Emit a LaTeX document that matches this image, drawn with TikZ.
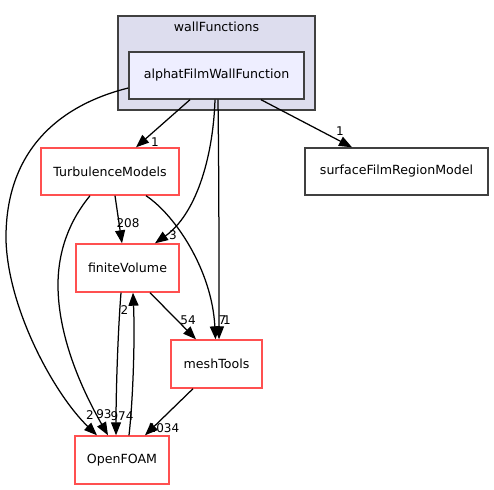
\documentclass[tikz,border=0pt]{standalone}
\usepackage{fontspec}
\setmainfont{DejaVu Sans}
\usetikzlibrary{arrows.meta}
\definecolor{clusterfill}{HTML}{DDDDEE}
\definecolor{nodefill}{HTML}{EEEEFF}
\definecolor{darkborder}{HTML}{404040}
\definecolor{redborder}{HTML}{FF5050}
\begin{document}
\begin{tikzpicture}[x=1pt,y=1pt,
  every node/.style={font=\fontsize{12.6}{15}\selectfont, inner sep=0pt},
  box/.style={draw, line width=1.4pt, minimum width=#1, minimum height=47pt},
  redbox/.style={box=#1, draw=redborder, fill=white},
  graybox/.style={box=#1, draw=darkborder, fill=white},
  dep/.style={line width=1.25pt, -{Triangle[length=13pt,width=10pt]}},
  lbl/.style={font=\fontsize{12}{14}\selectfont}
]
\useasboundingbox (0,0) rectangle (494,-489);
\fill[white] (0,0) rectangle (494,-489);
% cluster
\draw[fill=clusterfill, draw=darkborder, line width=1.3pt] (118,-16) rectangle (315,-110);
\node (clab) at (216.5,-27) {wallFunctions};
% nodes
\node[box=175pt, draw=darkborder, fill=nodefill] (alphat) at (216.5,-75.5) {alphatFilmWallFunction};
\node[redbox=138pt] (TM) at (110,-171.5) {TurbulenceModels};
\node[graybox=183pt] (SF) at (396.5,-171.5) {surfaceFilmRegionModel};
\node[redbox=103pt, minimum height=48pt] (FV) at (127.5,-268) {finiteVolume};
\node[redbox=91pt, minimum height=48pt] (MT) at (216.5,-364) {meshTools};
\node[redbox=94pt, minimum height=48pt] (OF) at (122,-460) {OpenFOAM};
% edges
\draw[dep] ([xshift=-26.5pt]alphat.south) -- ([xshift=26pt]TM.north);
\draw[dep] ([xshift=44.5pt]alphat.south) -- ([xshift=-44.5pt]SF.north);
\draw[dep] ([xshift=-1.5pt]alphat.south) .. controls (213,-160) and (195,-215) .. ([xshift=27.5pt]FV.north);
\draw[dep] ([xshift=1.5pt]alphat.south) .. controls (219,-180) and (219,-260) .. ([xshift=2.5pt]MT.north);
\draw[dep] ([yshift=-12.5pt]alphat.west) .. controls (60,-105) and (5,-150) .. (6,-240)
   .. controls (8,-310) and (55,-395) .. ([xshift=-25pt]OF.north);
\draw[dep] ([xshift=5pt]TM.south) -- ([xshift=-5.5pt]FV.north);
\draw[dep] ([xshift=36pt]TM.south) .. controls (175,-215) and (212,-270) .. ([xshift=-1pt]MT.north);
\draw[dep] ([xshift=-20pt]TM.south) .. controls (70,-220) and (58,-250) .. (58,-285)
   .. controls (58,-340) and (85,-395) .. ([xshift=-14pt]OF.north);
\draw[dep] ([xshift=-6.5pt]FV.south) .. controls (118,-330) and (116,-390) .. ([xshift=-6pt]OF.north);
\draw[dep] ([xshift=7pt]OF.north) .. controls (133,-400) and (135,-340) .. ([xshift=5.5pt]FV.south);
\draw[dep] ([xshift=22.5pt]FV.south) -- ([xshift=-20.5pt]MT.north);
\draw[dep] ([xshift=-23.5pt]MT.south) -- ([xshift=23pt]OF.north);
% labels
\node[lbl] (l1) at (155,-142) {1};
\node[lbl] (l2) at (340,-131) {1};
\node[lbl] (l3) at (173,-235) {3};
\node[lbl] (l7) at (222.5,-320) {7};
\node[lbl] (l4) at (227,-320) {1};
\node[lbl] (l208) at (128,-223) {208};
\node[lbl] (l5) at (90,-415) {2};
\node[lbl] (l93) at (104,-414) {93};
\node[lbl] (l974) at (122,-416) {974};
\node[lbl] (l10) at (124.5,-310) {2};
\node[lbl] (l54) at (188,-320) {54};
\node[lbl] (l1034) at (164,-428) {1034};
\end{tikzpicture}
\end{document}
